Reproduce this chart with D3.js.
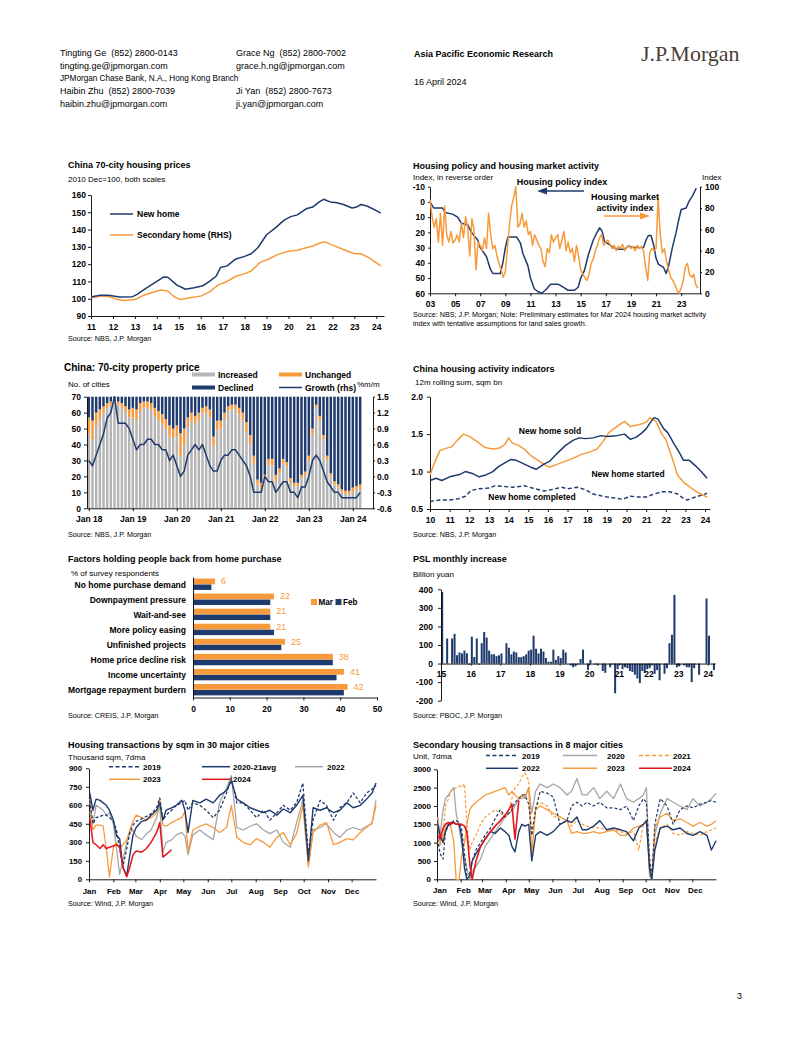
<!DOCTYPE html>
<html>
<head>
<meta charset="utf-8">
<script src="https://cdn.jsdelivr.net/npm/d3@7"></script>
<style>
body { margin: 0; background: #fff; }
text { white-space: pre; }
</style>
</head>
<body>
<svg id="page" width="802" height="1037"></svg>
<script>
// ---------- data ----------
// China 70-city housing prices (2010 Dec = 100)
var c1NewYears = [2011.0,2011.4,2011.8,2012.3,2012.9,2013.1,2013.5,2014.0,2014.3,2014.5,2014.9,2015.3,2015.7,2016.1,2016.4,2016.7,2016.9,2017.2,2017.6,2018.0,2018.3,2018.6,2019.0,2019.4,2019.8,2020.1,2020.4,2020.8,2021.1,2021.4,2021.6,2021.9,2022.2,2022.5,2022.9,2023.1,2023.3,2023.6,2024.0,2024.2];
var c1New = [101,102,102,101,101.2,102.5,106,110,112.5,112.4,108,105.5,106.3,107.5,110,113,118,119,123,124.5,126,129.5,137,141,145.5,147.5,148.5,152,153,156,157.5,156,155.5,154.5,152.5,153,154.5,153.5,151,149.5];
var c1SecYears = [2011.0,2011.5,2011.9,2012.2,2012.5,2013.0,2013.4,2013.9,2014.2,2014.5,2014.8,2015.1,2015.5,2016.0,2016.4,2016.8,2017.2,2017.6,2018.0,2018.3,2018.7,2019.1,2019.5,2020.0,2020.4,2020.8,2021.1,2021.5,2021.65,2022.0,2022.5,2023.0,2023.3,2023.7,2024.2];
var c1Sec = [100.5,101.5,101,99.5,99,99.5,102,104,105,104.5,101,99.5,100.5,101.5,104,108,110,113,114.5,116,121,123,125.5,127.5,128,129.5,130.5,132.5,133,131,128.5,126,126,123.5,119];
var c1YTicks = [90,100,110,120,130,140,150,160];
var c1XTicks = [2011,2012,2013,2014,2015,2016,2017,2018,2019,2020,2021,2022,2023,2024];

// Housing policy index (reverse) and market activity index
var policyYears = [2003.0,2003.3,2004.0,2004.2,2004.8,2005.2,2005.5,2006.0,2006.3,2006.8,2007.0,2007.5,2007.8,2008.0,2008.6,2008.8,2009.0,2009.2,2009.9,2010.2,2010.4,2010.8,2011.0,2011.3,2011.6,2011.9,2012.3,2012.6,2013.2,2013.6,2014.0,2014.5,2014.8,2015.0,2015.3,2015.6,2016.0,2016.3,2016.5,2016.7,2016.9,2017.3,2017.6,2018.0,2018.5,2018.8,2019.2,2019.6,2020.0,2020.2,2020.4,2020.6,2020.8,2021.0,2021.2,2021.6,2021.8,2022.0,2022.3,2022.6,2022.8,2023.0,2023.4,2023.6,2023.9,2024.2];
var policyIndex = [0,4,4,7,8,10,14,15,20,25,30,36,44,47,47,40,30,23,23,27,34,42,50,57,59,60,57,54,54,56,58,58,56,50,45,35,25,20,17,19,26,28,30,31,31,29,30,30,30,25,22,22,28,37,41,43,47,42,30,20,12,5,4,0,-4,-9];
var activityStart = 2003, activityStep = 1 / 6; // bi-monthly readings
var activityIndex = [88,72,62,70,48,75, 45,82,55,48,58,47, 50,55,48,66,52,72, 62,35,70,60,22,48,
  45,40,52,42,75,55, 42,45,35,28,22,15, 20,42,65,82,90,100, 62,65,75,62,68,55,
  58,45,55,50,45,42, 30,25,42,38,55,48, 52,55,42,50,58,40, 48,38,42,30,45,35,
  22,18,15,12,18,28, 32,40,45,52,55,45, 48,50,46,42,45,40, 44,42,46,40,43,45,
  42,44,40,45,42,44, 40,25,12,38,42,40, 42,90,55,38,42,30, 22,15,12,8,3,0,
  5,12,25,28,18,15, 18,8,5];
var c2LeftTicks = [-10,0,10,20,30,40,50,60];
var c2RightTicks = [0,20,40,60,80,100];
var c2XTicks = [2003,2005,2007,2009,2011,2013,2015,2017,2019,2021,2023];

// 70-city property price: number of cities, Jan 2018 - Mar 2024
var c3Inc = [47,43,52,56,60,63,65,67,65,63,60,57, 57,55,61,63,63,62,58,55,53,50,45,44,
  46,33,40,51,55,53,56,60,60,57,39,49, 50,56,61,62,62,59,55,48,40,28,15,13,
  18,27,27,17,22,28,26,16,14,14,19,21, 30,46,63,55,43,30,20,15,13,10,9,9, 10,12,12];
var c3Unch = [10,12,8,6,4,3,2,2,2,3,4,5, 6,7,5,4,4,4,5,6,6,6,7,6, 6,14,10,6,5,5,4,3,4,5,6,6,
  5,4,3,3,3,4,5,6,6,5,3,3, 3,4,4,4,3,3,3,3,2,2,2,2, 3,4,2,3,3,3,2,2,2,2,2,2, 3,2,3];
var c3Dec = [13,15,10,8,6,4,3,1,3,4,6,8, 7,8,4,3,3,4,7,9,11,14,18,20, 18,23,20,13,10,12,10,7,6,8,25,15,
  15,10,6,5,5,7,10,16,24,37,52,54, 49,39,39,49,45,39,41,51,54,54,49,47, 37,20,5,12,24,37,48,53,55,58,59,59, 57,56,55];
var c3Growth = [0.3,0.2,0.4,0.6,0.8,1.1,1.2,1.5,1.0,1.0,1.0,0.9, 0.7,0.5,0.6,0.6,0.7,0.7,0.6,0.6,0.5,0.5,0.3,0.4,
  0.2,0.0,0.1,0.4,0.5,0.6,0.5,0.6,0.4,0.2,0.1,0.1, 0.3,0.4,0.4,0.5,0.5,0.4,0.3,0.2,0.0,-0.3,-0.3,-0.3,
  0.0,-0.1,-0.1,-0.3,-0.2,-0.1,-0.1,-0.3,-0.3,-0.4,-0.2,-0.2, 0.0,0.3,0.4,0.3,0.1,-0.1,-0.2,-0.3,-0.3,-0.4,-0.4,-0.4,
  -0.4,-0.4,-0.3];
var c3LeftTicks = [0,10,20,30,40,50,60,70];
var c3RightTicks = [-0.6,-0.3,0,0.3,0.6,0.9,1.2,1.5];
var c3XLabels = ["Jan 18","Jan 19","Jan 20","Jan 21","Jan 22","Jan 23","Jan 24"];

// Housing activity indicators, 12m rolling sum, sqm bn
var soldYears = [2010.0,2010.3,2010.6,2011.0,2011.5,2011.8,2012.2,2012.5,2012.8,2013.2,2013.5,2013.9,2014.1,2014.4,2014.8,2015.2,2015.4,2015.8,2016.1,2016.5,2016.9,2017.3,2017.6,2017.9,2018.3,2018.7,2019.0,2019.5,2019.9,2020.2,2020.5,2020.8,2021.0,2021.2,2021.4,2021.6,2021.9,2022.1,2022.4,2022.7,2022.9,2023.2,2023.5,2023.8,2024.1];
var sold = [0.88,0.91,0.88,0.93,0.96,1.0,0.97,0.93,0.95,1.0,1.07,1.13,1.16,1.15,1.1,1.05,1.03,1.1,1.14,1.25,1.35,1.42,1.45,1.44,1.45,1.48,1.47,1.48,1.5,1.43,1.46,1.52,1.57,1.65,1.72,1.7,1.57,1.52,1.38,1.25,1.15,1.15,1.08,1.0,0.91];
var startedYears = [2010.0,2010.2,2010.5,2010.8,2011.1,2011.4,2011.7,2012.0,2012.4,2012.8,2013.2,2013.5,2013.8,2014.0,2014.2,2014.5,2014.8,2015.1,2015.5,2015.9,2016.1,2016.5,2016.9,2017.3,2017.7,2018.1,2018.5,2018.8,2019.1,2019.5,2019.9,2020.2,2020.5,2020.8,2021.0,2021.2,2021.5,2021.8,2022.0,2022.3,2022.6,2022.9,2023.3,2023.7,2024.1];
var started = [0.95,1.1,1.28,1.31,1.33,1.42,1.5,1.47,1.4,1.32,1.3,1.31,1.36,1.45,1.38,1.35,1.3,1.22,1.15,1.08,1.06,1.1,1.14,1.18,1.23,1.26,1.3,1.4,1.52,1.6,1.67,1.6,1.62,1.64,1.66,1.72,1.67,1.5,1.43,1.2,0.95,0.86,0.78,0.71,0.66];
var completedYears = [2010.0,2010.5,2011.0,2011.5,2011.8,2012.1,2012.5,2013.0,2013.3,2013.8,2014.2,2014.8,2015.2,2015.8,2016.2,2016.7,2017.0,2017.5,2017.9,2018.3,2018.8,2019.3,2019.8,2020.2,2020.6,2021.0,2021.4,2021.8,2022.2,2022.6,2022.9,2023.1,2023.5,2023.9,2024.1];
var completed = [0.60,0.62,0.62,0.64,0.67,0.75,0.77,0.78,0.81,0.80,0.79,0.81,0.78,0.74,0.76,0.79,0.77,0.79,0.76,0.70,0.67,0.65,0.63,0.67,0.66,0.66,0.70,0.73,0.73,0.70,0.64,0.62,0.66,0.69,0.71];
var c4YTicks = [0.5,1.0,1.5,2.0];
var c4XTicks = [2010,2011,2012,2013,2014,2015,2016,2017,2018,2019,2020,2021,2022,2023,2024];

// Factors holding people back from home purchase (% of respondents)
var factors = ["No home purchase demand","Downpayment pressure","Wait-and-see","More policy easing","Unfinished projects","Home price decline risk","Income uncertainty","Mortgage repayment burdern"];
var factorsMar = [6,22,21,21,25,38,41,42];
var factorsFeb = [5,21,21,22,24,38,39,41];
var c5XTicks = [0,10,20,30,40,50];

// PSL monthly increase, bn yuan, Jan 2015 - Mar 2024
var psl = [385,0,135,0,135,160,45,60,55,70,55,-5,
  145,35,135,-5,110,170,140,70,50,50,40,45,
  55,0,110,85,50,65,60,35,35,40,50,70,
  75,150,80,55,80,65,30,10,10,75,20,40,
  30,75,60,0,-10,-20,-15,-5,25,75,0,-35,
  20,0,-5,-10,0,-40,-50,0,-20,-5,-160,-30,
  -5,-30,-20,-25,-40,-45,-60,-80,-105,-40,-50,-30,
  -25,-10,-55,-35,-90,0,-55,-25,110,155,370,-20,
  -15,0,-10,-20,-20,-100,-25,0,-60,0,0,350,
  150,0,-35];
var c6YTicks = [-200,-100,0,100,200,300,400];
var c6XLabels = ["15","16","17","18","19","20","21","22","23","24"];

// Housing transactions by sqm in 30 cities, thousand sqm, 7dma
var c7Days = [1,5,9,14,18,22,26,31,35,39,43,48,52,56,60,67,73,79,86,90,94,98,105,111,118,122,126,132,141,149,158,166,175,181,188,196,205,213,222,230,239,247,256,264,272,279,285,294,302,311,319,328,336,345,353,360,365];
var c7y2019 = [640,450,500,510,520,520,500,470,400,250,100,250,380,440,470,490,510,530,580,660,480,520,560,600,620,640,560,620,600,560,500,560,700,820,620,620,560,500,560,480,540,600,560,620,780,200,480,640,600,480,580,620,700,620,700,730,760];
var c7y2021 = [700,560,650,640,620,600,560,480,350,330,100,30,200,360,420,470,480,520,560,620,480,560,580,600,640,560,380,640,620,650,620,680,720,800,650,620,580,560,540,560,520,570,540,600,680,150,580,560,580,540,560,620,580,600,650,700,780];
var c7y2022 = [550,450,600,580,560,520,540,450,250,40,150,300,380,400,350,320,370,400,500,600,220,300,320,360,380,350,200,360,400,360,320,620,740,840,420,400,430,450,400,370,400,300,260,460,640,120,400,420,450,380,340,400,420,400,430,450,640];
var c7y2023 = [650,400,440,440,430,250,20,260,300,250,280,320,400,470,520,500,480,500,540,650,440,430,460,480,500,550,220,400,430,450,420,380,420,600,340,300,280,330,300,260,340,380,280,370,600,100,380,440,460,280,300,330,320,380,420,460,600];
var c7y2024 = [500,300,280,250,280,250,260,270,280,260,100,20,100,200,230,220,250,300,380,460,180,200,240];
var c7YTicks = [0,150,300,450,600,750,900];

// Secondary housing transactions in 8 cities, units, 7dma
var c8Days = [1,4,8,11,15,18,22,25,29,32,36,39,43,46,51,57,63,70,76,83,89,94,98,102,107,111,115,120,124,129,135,144,152,161,170,176,183,190,196,205,213,222,231,240,248,257,264,270,274,278,281,285,292,301,309,318,327,335,344,353,359,365];
var c8y2019 = [1100,700,550,1300,1450,1500,1600,1600,1550,1400,700,100,150,500,800,1000,1200,1400,1650,1900,1700,1800,1900,2100,2200,2300,2300,2050,1200,1900,2400,2350,2250,1500,1600,2000,2100,2000,2100,2000,2100,1950,1950,1900,2000,1600,2000,2200,2100,600,50,1500,2200,2000,1500,1900,2000,1950,2050,2100,2150,2100];
var c8y2020 = [1700,1200,1900,2200,2300,2400,2500,1800,1400,1000,600,300,0,200,350,550,900,1100,1300,1500,1700,1800,1850,2000,2200,2200,2250,2500,1800,2400,2600,2500,2600,2500,2300,2400,2750,2300,2300,2500,2200,2400,2200,2600,2200,2100,2200,2300,2500,100,0,1200,1800,2200,2100,2000,1900,2200,2000,2100,2200,2350];
var c8y2021 = [1700,900,1200,2000,2200,2400,2450,2500,2550,2500,2600,1500,800,1000,1200,1500,1700,1800,1900,1800,1700,1850,2200,2500,2600,2800,2900,2700,1200,2000,2100,2000,1700,1700,1600,1450,1600,1500,1450,1400,1400,1350,1350,1300,1250,1300,800,1500,1600,400,100,1000,1400,1500,1250,1200,1300,1250,1200,1300,1350,1400];
var c8y2022 = [1500,1200,1000,1300,1500,1550,1550,1500,1500,1200,300,0,100,500,700,900,1100,1300,1250,1400,1300,1200,900,750,1300,1500,1450,1500,500,1200,1300,1200,1300,1500,1600,1550,1700,1350,1350,1450,1600,1350,1400,1350,1300,1050,1400,1500,1600,300,0,800,1400,1450,1350,1400,1250,1200,1300,1200,800,1050];
var c8y2023 = [1500,1000,1200,1400,1500,1450,1000,0,0,600,1000,1500,1900,2000,2100,2200,2300,2350,2400,2450,2500,2300,2400,2300,2200,2300,2200,2500,700,1900,2000,1900,1800,1700,1600,1250,1300,1250,1250,1300,1250,1300,1350,1200,1200,1400,1450,1500,1550,300,0,1400,1700,1800,1600,1650,1550,1450,1550,1450,1500,1600];
var c8y2024 = [1200,1100,1400,1500,1550,1500,1550,1500,1500,1500,1450,1300,400,0,500,900,1100,1300,1450,1600,1750,1900,2050,1100,2150];
var c8YTicks = [0,500,1000,1500,2000,2500,3000];

var monthStarts = [0,31,59,90,120,151,181,212,243,273,304,334];
var monthNames = ["Jan","Feb","Mar","Apr","May","Jun","Jul","Aug","Sep","Oct","Nov","Dec"];

// ---------- drawing ----------
var FONT = '"Liberation Sans", Arial, Helvetica, sans-serif';
var NAVY = "#1f3a6d", ORANGE = "#f79a3c", GRAY = "#a6a6a6", BARGRAY = "#b5b5b5", RED = "#e3161d";

// plain hyphen for negatives, no thousands separator
function plain(d) { return String(d); }
function oneDec(d) { return d3.format(".1f")(d).replace("\u2212", "-"); }

var svg = d3.select("#page");
svg.append("rect").attr("width", 802).attr("height", 1037).attr("fill", "#fff");

function txt(x, y, s, o) {
    o = o || {};
    return svg.append("text")
        .attr("x", x).attr("y", y)
        .attr("font-family", o.family || FONT)
        .attr("font-size", o.size || 8)
        .attr("font-weight", o.bold ? "bold" : "normal")
        .attr("text-anchor", o.anchor || "start")
        .attr("fill", o.fill || "#000")
        .text(s);
}

function fixAxis(g, size) {
    g.attr("font-family", FONT).attr("font-size", size || 8.5).attr("font-weight", "bold");
    g.select(".domain").attr("stroke", "#000").attr("stroke-width", 0.9);
    g.selectAll(".tick line").attr("stroke", "#000").attr("stroke-width", 0.9);
    g.selectAll(".tick text").attr("fill", "#000");
}

function drawLine(xs, ys, x, y, color, width, dash) {
    var pts = ys.map(function(v, i) { return [xs[i], v]; });
    var line = d3.line().x(function(d) { return x(d[0]); }).y(function(d) { return y(d[1]); });
    var p = svg.append("path")
        .attr("d", line(pts))
        .attr("fill", "none")
        .attr("stroke", color)
        .attr("stroke-width", width)
        .attr("stroke-linejoin", "round");
    if (dash) p.attr("stroke-dasharray", dash);
    return p;
}

function legLine(x1, x2, y, color, width, dash) {
    var l = svg.append("line").attr("x1", x1).attr("x2", x2).attr("y1", y).attr("y2", y)
        .attr("stroke", color).attr("stroke-width", width);
    if (dash) l.attr("stroke-dasharray", dash);
}

// header
txt(60, 56, "Tingting Ge  (852) 2800-0143", {size: 9});
txt(60, 69, "tingting.ge@jpmorgan.com", {size: 9});
txt(60, 81, "JPMorgan Chase Bank, N.A., Hong Kong Branch", {size: 8.2});
txt(60, 94, "Haibin Zhu  (852) 2800-7039", {size: 9});
txt(60, 107, "haibin.zhu@jpmorgan.com", {size: 9});
txt(236, 56, "Grace Ng  (852) 2800-7002", {size: 9});
txt(236, 69, "grace.h.ng@jpmorgan.com", {size: 9});
txt(236, 94, "Ji Yan  (852) 2800-7673", {size: 9});
txt(236, 107, "ji.yan@jpmorgan.com", {size: 9});
txt(414, 57, "Asia Pacific Economic Research", {size: 9, bold: true});
txt(414, 85, "16 April 2024", {size: 9});
txt(641, 61, "J.P.Morgan", {size: 22, family: '"Liberation Serif", "DejaVu Serif", serif', fill: "#4a4039"});
txt(737, 999, "3", {size: 9});

// ---- chart 1: China 70-city housing prices
txt(68, 168, "China 70-city housing prices", {size: 9, bold: true});
txt(68, 182, "2010 Dec=100, both scales", {size: 8});
var x1 = d3.scaleLinear().domain([2011, 2024.35]).range([91, 384]);
var y1 = d3.scaleLinear().domain([90, 160]).range([316, 195]);
svg.append("g").attr("transform", "translate(91,0)")
    .call(d3.axisLeft(y1).tickValues(c1YTicks).tickFormat(plain).tickSize(3).tickPadding(2).tickSizeOuter(0))
    .call(fixAxis, 8.5);
svg.append("g").attr("transform", "translate(0,316)")
    .call(d3.axisBottom(x1).tickValues(c1XTicks).tickFormat(function(d) { return String(d).slice(2); })
        .tickSize(3).tickPadding(5).tickSizeOuter(0))
    .call(fixAxis, 8.5);
drawLine(c1SecYears, c1Sec, x1, y1, ORANGE, 1.5);
drawLine(c1NewYears, c1New, x1, y1, NAVY, 1.5);
legLine(110, 133, 214, NAVY, 1.5);
txt(137, 217, "New home", {size: 8.5, bold: true});
legLine(110, 133, 235, ORANGE, 1.5);
txt(137, 238, "Secondary home (RHS)", {size: 8.5, bold: true});
txt(68, 341, "Source: NBS, J.P. Morgan", {size: 7.2});

// ---- chart 2: housing policy and market activity
txt(413, 169, "Housing policy and housing market activity", {size: 9, bold: true});
txt(413, 180, "Index, in reverse order", {size: 8});
txt(702, 180, "Index", {size: 8});
var x2 = d3.scaleLinear().domain([2003, 2024.5]).range([430, 700]);
var y2L = d3.scaleLinear().domain([-10, 60]).range([186.7, 293.3]);
var y2R = d3.scaleLinear().domain([0, 100]).range([293.3, 186.7]);
svg.append("g").attr("transform", "translate(430,0)")
    .call(d3.axisLeft(y2L).tickValues(c2LeftTicks).tickFormat(plain).tickSize(2).tickPadding(3).tickSizeOuter(0))
    .call(fixAxis, 8.5);
svg.append("g").attr("transform", "translate(700,0)")
    .call(d3.axisRight(y2R).tickValues(c2RightTicks).tickFormat(plain).tickSize(2).tickPadding(3).tickSizeOuter(0))
    .call(fixAxis, 8.5);
svg.append("g").attr("transform", "translate(0,293.3)")
    .call(d3.axisBottom(x2).tickValues(c2XTicks).tickFormat(function(d) { return String(d).slice(2); })
        .tickSize(3).tickPadding(5).tickSizeOuter(0))
    .call(fixAxis, 8.5);
var actYears = activityIndex.map(function(v, i) { return activityStart + i * activityStep; });
drawLine(policyYears, policyIndex, x2, y2L, NAVY, 1.5);
drawLine(actYears, activityIndex, x2, y2R, ORANGE, 1.5);
txt(562, 185, "Housing policy index", {size: 9, bold: true, anchor: "middle"});
legLine(545, 584, 191, NAVY, 1.6);
svg.append("path").attr("d", "M537,191 L547,187.5 L547,194.5 Z").attr("fill", NAVY);
txt(625, 200, "Housing market", {size: 9, bold: true, anchor: "middle"});
txt(625, 211, "activity index", {size: 9, bold: true, anchor: "middle"});
legLine(604, 641, 216, ORANGE, 1.6);
svg.append("path").attr("d", "M650,216 L640,212.5 L640,219.5 Z").attr("fill", ORANGE);
txt(413, 317, "Source: NBS; J.P. Morgan; Note: Preliminary estimates for Mar 2024 housing market activity", {size: 7.2});
txt(413, 326, "index with tentative assumptions for land sales growth.", {size: 7.2});

// ---- chart 3: 70-city property price
txt(64, 371, "China: 70-city property price", {size: 10, bold: true});
txt(68, 387, "No. of cities", {size: 8});
txt(357, 387, "%m/m", {size: 8});
var x3 = d3.scaleLinear().domain([-0.5, 77.5]).range([87, 373]);
var y3 = d3.scaleLinear().domain([0, 70]).range([508.3, 396.7]);
var y3R = d3.scaleLinear().domain([-0.6, 1.5]).range([508.3, 396.7]);
var bw3 = 2.5;
c3Inc.forEach(function(v, i) {
    var xx = x3(i) - bw3 / 2;
    svg.append("rect").attr("x", xx).attr("width", bw3)
        .attr("y", y3(v)).attr("height", y3(0) - y3(v)).attr("fill", BARGRAY);
    svg.append("rect").attr("x", xx).attr("width", bw3)
        .attr("y", y3(v + c3Unch[i])).attr("height", y3(v) - y3(v + c3Unch[i])).attr("fill", ORANGE);
    var top = v + c3Unch[i] + c3Dec[i];
    svg.append("rect").attr("x", xx).attr("width", bw3)
        .attr("y", y3(top)).attr("height", y3(v + c3Unch[i]) - y3(top)).attr("fill", NAVY);
});
svg.append("g").attr("transform", "translate(87,0)")
    .call(d3.axisLeft(y3).tickValues(c3LeftTicks).tickFormat(plain).tickSize(3).tickPadding(3).tickSizeOuter(0))
    .call(fixAxis, 8.5);
svg.append("g").attr("transform", "translate(373,0)")
    .call(d3.axisRight(y3R).tickValues(c3RightTicks).tickFormat(oneDec).tickSize(2).tickPadding(2).tickSizeOuter(0))
    .call(fixAxis, 8.5);
svg.append("g").attr("transform", "translate(0,508.3)")
    .call(d3.axisBottom(x3).tickValues([0, 12, 24, 36, 48, 60, 72])
        .tickFormat(function(d, i) { return c3XLabels[i]; }).tickSize(3).tickPadding(5).tickSizeOuter(0))
    .call(fixAxis, 8.5);
drawLine(c3Growth.map(function(v, i) { return i; }), c3Growth, x3, y3R, NAVY, 1.5);
svg.append("rect").attr("x", 192).attr("y", 372.5).attr("width", 23).attr("height", 4).attr("fill", BARGRAY);
txt(218, 377.5, "Increased", {size: 8.5, bold: true});
svg.append("rect").attr("x", 279).attr("y", 372.5).attr("width", 23).attr("height", 4).attr("fill", ORANGE);
txt(305, 377.5, "Unchanged", {size: 8.5, bold: true});
svg.append("rect").attr("x", 192).attr("y", 385.5).attr("width", 23).attr("height", 4).attr("fill", NAVY);
txt(218, 390.5, "Declined", {size: 8.5, bold: true});
legLine(279, 302, 387.5, NAVY, 1.5);
txt(305, 390.5, "Growth (rhs)", {size: 8.5, bold: true});
txt(68, 537, "Source: NBS, J.P. Morgan", {size: 7.2});

// ---- chart 4: China housing activity indicators
txt(413, 372, "China housing activity indicators", {size: 9, bold: true});
txt(415, 385, "12m rolling sum, sqm bn", {size: 8});
var x4 = d3.scaleLinear().domain([2010, 2024.25]).range([430, 710]);
var y4 = d3.scaleLinear().domain([0.5, 2.0]).range([509, 396.7]);
svg.append("g").attr("transform", "translate(430,0)")
    .call(d3.axisLeft(y4).tickValues(c4YTicks).tickFormat(oneDec).tickSize(3).tickPadding(4).tickSizeOuter(0))
    .call(fixAxis, 8.5);
svg.append("g").attr("transform", "translate(0,509)")
    .call(d3.axisBottom(x4).tickValues(c4XTicks).tickFormat(function(d) { return String(d).slice(2); })
        .tickSize(3).tickPadding(5).tickSizeOuter(0))
    .call(fixAxis, 8.5);
drawLine(completedYears, completed, x4, y4, NAVY, 1.4, "4,2.5");
drawLine(startedYears, started, x4, y4, ORANGE, 1.5);
drawLine(soldYears, sold, x4, y4, NAVY, 1.5);
txt(550, 434, "New home sold", {size: 8.5, bold: true, anchor: "middle"});
txt(628, 476.5, "New home started", {size: 8.5, bold: true, anchor: "middle"});
txt(532, 500, "New home completed", {size: 8.5, bold: true, anchor: "middle"});
txt(413, 537, "Source: NBS, J.P. Morgan", {size: 7.2});

// ---- chart 5: factors holding people back
txt(68, 562, "Factors holding people back from home purchase", {size: 9, bold: true});
txt(71, 576, "% of survey respondents", {size: 8});
var x5 = d3.scaleLinear().domain([0, 50]).range([193, 377]);
var y5 = d3.scaleBand().domain(factors).range([577, 697.5]);
factors.forEach(function(f, i) {
    var c = y5(f) + y5.bandwidth() / 2;
    svg.append("rect").attr("x", x5(0)).attr("y", c - 6).attr("width", x5(factorsMar[i]) - x5(0)).attr("height", 5.8).attr("fill", ORANGE);
    svg.append("rect").attr("x", x5(0)).attr("y", c).attr("width", x5(factorsFeb[i]) - x5(0)).attr("height", 5.4).attr("fill", NAVY);
    txt(x5(factorsMar[i]) + 6, c - 0.2, String(factorsMar[i]), {size: 9, fill: ORANGE});
    txt(186, c + 3, f, {size: 8.5, bold: true, anchor: "end"});
});
svg.append("g").attr("transform", "translate(193,0)")
    .call(d3.axisLeft(y5).tickSize(0).tickFormat(""))
    .call(fixAxis, 8.5);
svg.append("g").attr("transform", "translate(0,697.5)")
    .call(d3.axisBottom(x5).tickValues(c5XTicks).tickFormat(plain).tickSize(3).tickPadding(5).tickSizeOuter(0))
    .call(fixAxis, 8.5);
svg.append("rect").attr("x", 311).attr("y", 599).attr("width", 6).attr("height", 6).attr("fill", ORANGE);
txt(318.5, 605, "Mar", {size: 8.2, bold: true});
svg.append("rect").attr("x", 335.5).attr("y", 599).attr("width", 6).attr("height", 6).attr("fill", NAVY);
txt(343, 605, "Feb", {size: 8.2, bold: true});
txt(68, 718, "Source: CREIS, J.P. Morgan", {size: 7.2});

// ---- chart 6: PSL monthly increase
txt(413, 562, "PSL monthly increase", {size: 9, bold: true});
txt(413, 577, "Billion yuan", {size: 8});
var x6 = d3.scaleLinear().domain([0, 111]).range([441, 715.2]);
var y6 = d3.scaleLinear().domain([-200, 400]).range([700.7, 589.3]);
psl.forEach(function(v, i) {
    svg.append("rect").attr("x", x6(i) + 0.2).attr("width", 2)
        .attr("y", y6(Math.max(v, 0))).attr("height", Math.abs(y6(v) - y6(0)))
        .attr("fill", NAVY);
});
svg.append("g").attr("transform", "translate(441,0)")
    .call(d3.axisLeft(y6).tickValues(c6YTicks).tickFormat(plain).tickSize(3).tickPadding(5).tickSizeOuter(0))
    .call(fixAxis, 8.5);
svg.append("g").attr("transform", "translate(0," + y6(0) + ")")
    .call(d3.axisBottom(x6).tickValues([0, 12, 24, 36, 48, 60, 72, 84, 96, 108])
        .tickFormat(function(d, i) { return c6XLabels[i]; }).tickSize(2).tickPadding(5).tickSizeOuter(0))
    .call(fixAxis, 8.5);
txt(413, 718, "Source: PBOC, J.P. Morgan", {size: 7.2});

// ---- chart 7: transactions in 30 cities
txt(68, 748, "Housing transactions by sqm in 30 major cities", {size: 9, bold: true});
txt(68, 760, "Thousand sqm, 7dma", {size: 8});
var x7 = d3.scaleLinear().domain([0, 365]).range([89, 376]);
var y7 = d3.scaleLinear().domain([0, 900]).range([879.3, 768.3]);
svg.append("g").attr("transform", "translate(89,0)")
    .call(d3.axisLeft(y7).tickValues(c7YTicks).tickFormat(plain).tickSize(3).tickPadding(4).tickSizeOuter(0))
    .call(fixAxis, 7.8);
svg.append("g").attr("transform", "translate(0,879.3)")
    .call(d3.axisBottom(x7).tickValues(monthStarts).tickFormat(function(d, i) { return monthNames[i]; })
        .tickSize(3).tickPadding(6).tickSizeOuter(0))
    .call(fixAxis, 7.8);
drawLine(c7Days, c7y2022, x7, y7, GRAY, 1.3);
drawLine(c7Days, c7y2023, x7, y7, ORANGE, 1.3);
drawLine(c7Days, c7y2019, x7, y7, NAVY, 1.3, "3,2");
drawLine(c7Days, c7y2021, x7, y7, NAVY, 1.4);
drawLine(c7Days.slice(0, c7y2024.length), c7y2024, x7, y7, RED, 1.5);
legLine(109, 140, 766.7, NAVY, 1.4, "4,2.5");
txt(143, 769.7, "2019", {size: 8, bold: true});
legLine(202, 230, 766.7, NAVY, 1.5);
txt(233, 769.7, "2020-21avg", {size: 8, bold: true});
legLine(295, 323, 766.7, GRAY, 1.5);
txt(327, 769.7, "2022", {size: 8, bold: true});
legLine(109, 140, 779.3, ORANGE, 1.5);
txt(143, 782.3, "2023", {size: 8, bold: true});
legLine(202, 230, 779.3, RED, 1.5);
txt(233, 782.3, "2024", {size: 8, bold: true});
txt(68, 906, "Source: Wind, J.P. Morgan", {size: 7.2});

// ---- chart 8: secondary transactions in 8 cities
txt(413, 748, "Secondary housing transactions in 8 major cities", {size: 9, bold: true});
txt(413, 759, "Unit, 7dma", {size: 8});
var x8 = d3.scaleLinear().domain([0, 365]).range([437, 716]);
var y8 = d3.scaleLinear().domain([0, 3000]).range([879.3, 769.3]);
svg.append("g").attr("transform", "translate(437,0)")
    .call(d3.axisLeft(y8).tickValues(c8YTicks).tickFormat(plain).tickSize(3).tickPadding(3).tickSizeOuter(0))
    .call(fixAxis, 8);
svg.append("g").attr("transform", "translate(0,879.3)")
    .call(d3.axisBottom(x8).tickValues(monthStarts).tickFormat(function(d, i) { return monthNames[i]; })
        .tickSize(3).tickPadding(5).tickSizeOuter(0))
    .call(fixAxis, 8)
    .selectAll(".tick text").attr("dx", 2.5);
drawLine(c8Days, c8y2020, x8, y8, GRAY, 1.3);
drawLine(c8Days, c8y2021, x8, y8, ORANGE, 1.2, "3,2");
drawLine(c8Days, c8y2023, x8, y8, ORANGE, 1.3);
drawLine(c8Days, c8y2019, x8, y8, NAVY, 1.2, "3,2");
drawLine(c8Days, c8y2022, x8, y8, NAVY, 1.4);
drawLine(c8Days.slice(0, c8y2024.length), c8y2024, x8, y8, RED, 1.6);
legLine(486, 518, 755.5, NAVY, 1.4, "4,2.5");
txt(522, 758.5, "2019", {size: 8, bold: true});
legLine(563, 597, 755.5, GRAY, 1.5);
txt(607, 758.5, "2020", {size: 8, bold: true});
legLine(639, 672, 755.5, ORANGE, 1.4, "4,2.5");
txt(673, 758.5, "2021", {size: 8, bold: true});
legLine(486, 518, 768.3, NAVY, 1.5);
txt(522, 771.3, "2022", {size: 8, bold: true});
legLine(563, 597, 768.3, ORANGE, 1.5);
txt(607, 771.3, "2023", {size: 8, bold: true});
legLine(639, 672, 768.3, RED, 1.5);
txt(673, 771.3, "2024", {size: 8, bold: true});
txt(413, 906, "Source: Wind, J.P. Morgan", {size: 7.2});
</script>
</body>
</html>
